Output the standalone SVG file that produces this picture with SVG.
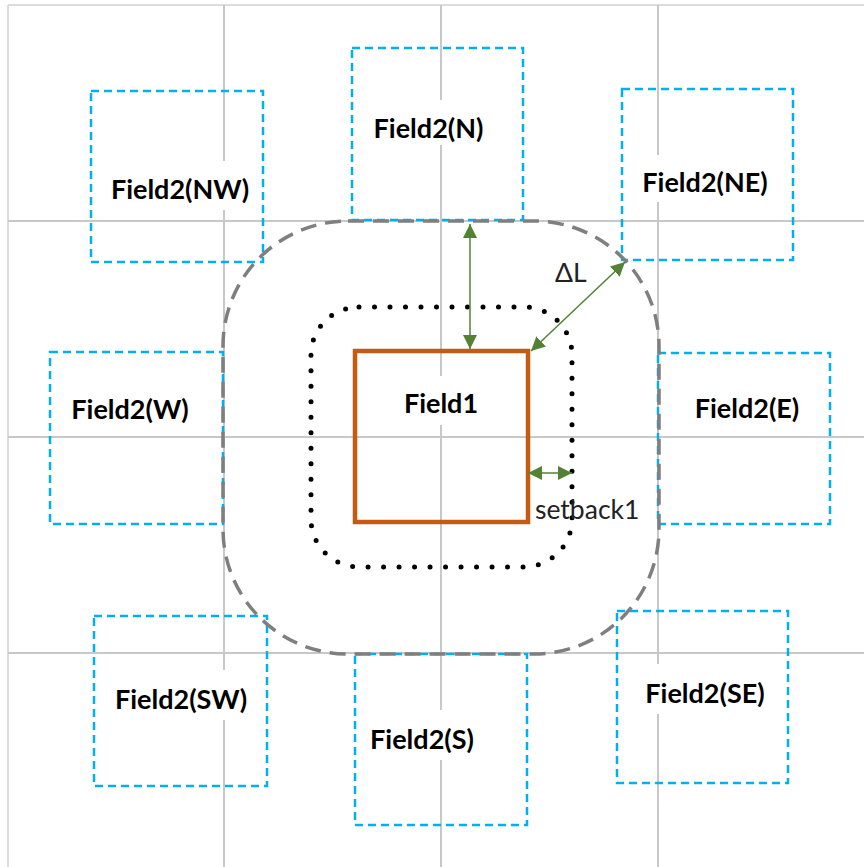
<svg xmlns="http://www.w3.org/2000/svg" width="864" height="867" viewBox="0 0 864 867">
<defs>
<style>
.grid{stroke:#C8C8C8;stroke-width:2;fill:none}
.border{stroke:#DCDCDC;stroke-width:2;fill:none}
.f2{fill:none;stroke:#00B0F0;stroke-width:2.5;stroke-dasharray:8 5}
.lbl{font-family:Lato,"Liberation Sans",sans-serif;font-weight:bold;font-size:27px;fill:#000;text-anchor:middle}
.note{font-family:Lato,"Liberation Sans",sans-serif;font-size:26.5px;fill:#222}
.arr{stroke:#548235;stroke-width:1.5;fill:none;marker-start:url(#ah);marker-end:url(#ah)}
</style>
<marker id="ah" viewBox="0 0 10 10" refX="10" refY="5" markerWidth="14" markerHeight="14" markerUnits="userSpaceOnUse" orient="auto-start-reverse">
<path d="M0,0 L10,5 L0,10 z" fill="#548235"/>
</marker>
</defs>
<rect width="864" height="867" fill="#fff"/>
<g id="grid">
<path class="border" d="M8,5 H864 M8,5 V867"/>
<path class="grid" d="M8,221 H864 M8,437 H864 M8,653 H864"/>
<path class="grid" d="M224,5 V161 M224,210 V670 M224,720 V867"/>
<path class="grid" d="M441,5 V100 M441,145 V376 M441,425 V710 M441,760 V867"/>
<path class="grid" d="M658,5 V155 M658,202 V664 M658,714 V867"/>
</g>
<g id="Field2-NW"><rect class="f2" x="91" y="91" width="172" height="171"/><text class="lbl" x="180" y="199">Field2(NW)</text></g>
<g id="Field2-N"><rect class="f2" x="352" y="48" width="171" height="172"/><text class="lbl" x="428.5" y="138">Field2(N)</text></g>
<g id="Field2-NE"><rect class="f2" x="622" y="89" width="171" height="171"/><text class="lbl" x="705" y="192">Field2(NE)</text></g>
<g id="Field2-W"><rect class="f2" x="50" y="352" width="173" height="172"/><text class="lbl" x="130" y="419">Field2(W)</text></g>
<g id="Field2-E"><rect class="f2" x="658" y="353" width="172" height="171"/><text class="lbl" x="747" y="418">Field2(E)</text></g>
<g id="Field2-SW"><rect class="f2" x="94" y="616" width="173" height="170"/><text class="lbl" x="181" y="709">Field2(SW)</text></g>
<g id="Field2-S"><rect class="f2" x="355" y="654" width="172" height="171"/><text class="lbl" x="422" y="749">Field2(S)</text></g>
<g id="Field2-SE"><rect class="f2" x="617" y="611" width="171" height="172"/><text class="lbl" x="705" y="703">Field2(SE)</text></g>
<g id="zone-dL"><rect x="223" y="221" width="436" height="433" rx="125" ry="125" fill="none" stroke="#7F7F7F" stroke-width="3.5" stroke-dasharray="16 9"/></g>
<g id="zone-setback"><rect x="311" y="307" width="261" height="260" rx="48" ry="48" fill="none" stroke="#000" stroke-width="5" stroke-linecap="round" stroke-dasharray="0 15.5"/></g>
<g id="Field1"><rect x="355" y="351" width="173" height="171" fill="none" stroke="#C55A11" stroke-width="4.5"/><text class="lbl" x="441" y="413">Field1</text></g>
<g id="connectors">
<line class="arr" x1="470" y1="224" x2="470" y2="349"/>
<line class="arr" x1="531" y1="351" x2="625" y2="262"/>
<line class="arr" x1="528" y1="473" x2="572" y2="473"/>
</g>
<text class="note" x="555" y="282">ΔL</text>
<text class="note" x="535" y="519">setback1</text>
</svg>
